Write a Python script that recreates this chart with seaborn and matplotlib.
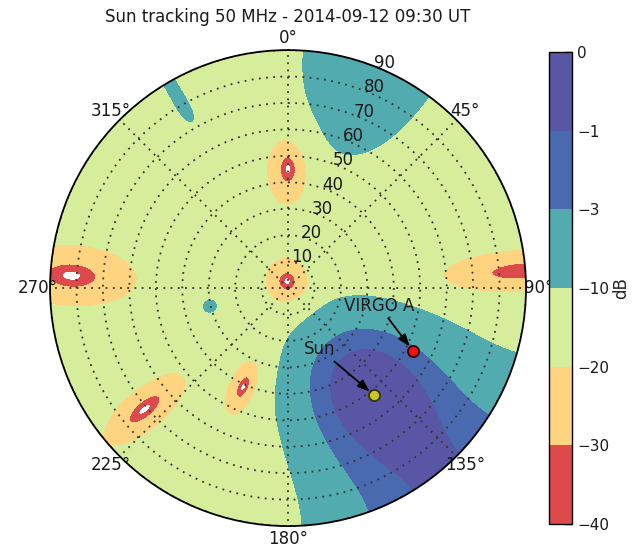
import numpy as np
import matplotlib
matplotlib.use("Agg")
import matplotlib.pyplot as plt
import seaborn as sns

TITLE = "Sun tracking 50 MHz - 2014-09-12 09:30 UT"

# contour levels in dB (also the colorbar ticks)
LEVELS = [-40, -30, -20, -10, -3, -1, 0]
R_TICKS = [10, 20, 30, 40, 50, 60, 70, 80, 90]
THETA_TICKS = [0, 45, 90, 135, 180, 225, 270, 315]

# overall sky level of the pattern (dB)
BG_DB = -15.0

# lobes in direction-cosine space: azimuth (deg), sin(zenith) radius, width, shape exponent, peak (dB)
LOBE_AZ = [141.2, 20.0, 330.0, 257.0]
LOBE_RHO = [0.79, 1.16, 0.985, 0.505]
LOBE_WIDTH = [0.405, 0.283, 0.028, 0.044]
LOBE_SHAPE = [2.7, 2.0, 2.0, 2.0]
LOBE_PEAK_DB = [0.0, -5.0, -6.5, -8.0]

# nulls in the plot plane: azimuth, zenith angle, radial / tangential widths (deg), depth
NULL_AZ = [352.0, 0.0, 273.3, 85.8, 204.4, 229.8]
NULL_ZEN = [2.6, 45.0, 82.0, 87.9, 41.1, 71.0]
NULL_RAD = [13.0, 20.0, 36.0, 45.0, 17.0, 28.0]
NULL_TAN = [12.0, 12.0, 17.0, 12.0, 8.0, 11.5]
NULL_DEPTH = [0.9999, 0.9999, 0.9999, 0.995, 0.9999, 0.9999]

# sources (azimuth, zenith angle in deg)
SUN_AZ, SUN_ZEN = 141.2, 51.9
VIRGO_AZ, VIRGO_ZEN = 116.7, 52.9

# sky grid
az = np.linspace(0, 360, 721)
zen = np.linspace(0, 90, 361)
AZ, ZEN = np.meshgrid(az, zen)
az_r = np.radians(AZ)
u = np.sin(np.radians(ZEN)) * np.sin(az_r)
v = np.sin(np.radians(ZEN)) * np.cos(az_r)

power = np.full(AZ.shape, 10 ** (BG_DB / 10))
for a, rho, w, p, pk in zip(LOBE_AZ, LOBE_RHO, LOBE_WIDTH, LOBE_SHAPE, LOBE_PEAK_DB):
    uc, vc = rho * np.sin(np.radians(a)), rho * np.cos(np.radians(a))
    d = np.hypot(u - uc, v - vc)
    power += 10 ** (pk / 10) * np.exp(-((d / w) ** p))

X = ZEN * np.sin(az_r)
Y = ZEN * np.cos(az_r)
for a, z, sr, st, depth in zip(NULL_AZ, NULL_ZEN, NULL_RAD, NULL_TAN, NULL_DEPTH):
    ar = np.radians(a)
    dx, dy = X - z * np.sin(ar), Y - z * np.cos(ar)
    dr = dx * np.sin(ar) + dy * np.cos(ar)
    dt = dx * np.cos(ar) - dy * np.sin(ar)
    x2 = (dr / sr) ** 2 + (dt / st) ** 2
    power *= 1 - depth * np.exp(-(x2 ** 1.25))

db = 10 * np.log10(power / power.max())

sns.set_theme(style="white")
plt.rcParams["font.family"] = ["DejaVu Sans"]
plt.rcParams.update({"font.size": 12, "text.color": "#1a1a1a",
                     "xtick.color": "#1a1a1a", "ytick.color": "#1a1a1a"})

fig = plt.figure(figsize=(6.34, 5.48), dpi=100)
ax = fig.add_axes([0.0789, 0.0400, 0.7508, 0.8686], projection="polar")
ax.set_theta_zero_location("N")
ax.set_theta_direction(-1)

cmap = sns.color_palette("Spectral", as_cmap=True)
cf = ax.contourf(np.radians(AZ), ZEN, db, levels=LEVELS, cmap=cmap)

ax.set_ylim(0, 90)
ax.set_yticks(R_TICKS)
ax.set_yticklabels([])
ax.set_thetagrids(THETA_TICKS)
ax.set_axisbelow("line")
ax.grid(True, color="#333333", linestyle=(0, (1, 3)), linewidth=1.3)
ax.spines["polar"].set_color("black")
ax.spines["polar"].set_linewidth(1.3)
ax.tick_params(axis="x", length=0, pad=2, labelsize=12)
ax.tick_params(axis="y", length=0)

# zenith-angle labels, centred just outside each ring along azimuth ~23 deg
for r in R_TICKS:
    ax.text(np.radians(23.3), r + 2.6, str(r), ha="center", va="center",
            fontsize=12, color="#1a1a1a", clip_on=False)

ax.plot(np.radians(SUN_AZ), SUN_ZEN, "o", color="#c8c81e", mec="#333300",
        mew=1.3, ms=8, zorder=5)
ax.plot(np.radians(VIRGO_AZ), VIRGO_ZEN, "o", color="#ee1111", mec="#330000",
        mew=1.3, ms=8, zorder=5)

arrow = dict(arrowstyle="-|>,head_length=0.6,head_width=0.22", color="black",
             lw=1.3, shrinkA=0, shrinkB=4)
ax.annotate("Sun", xy=(np.radians(SUN_AZ), SUN_ZEN), xytext=(-39, 33),
            textcoords="offset points", ha="center", va="center",
            fontsize=12, arrowprops=arrow)
ax.annotate("VIRGO A", xy=(np.radians(VIRGO_AZ), VIRGO_ZEN), xytext=(-24.5, 32.4),
            textcoords="offset points", ha="center", va="center",
            fontsize=12, arrowprops=arrow)

ax.set_title(TITLE, fontsize=12, pad=5)

cax = fig.add_axes([0.866, 0.044, 0.036, 0.861])
cb = fig.colorbar(cf, cax=cax, ticks=LEVELS)
cb.outline.set_edgecolor("black")
cb.outline.set_linewidth(1.0)
cax.tick_params(direction="in", length=5, width=1, right=True, color="black",
                labelsize=11, pad=4)
cb.set_label("dB", fontsize=12, labelpad=2)

fig.savefig("out.png", dpi=100)
